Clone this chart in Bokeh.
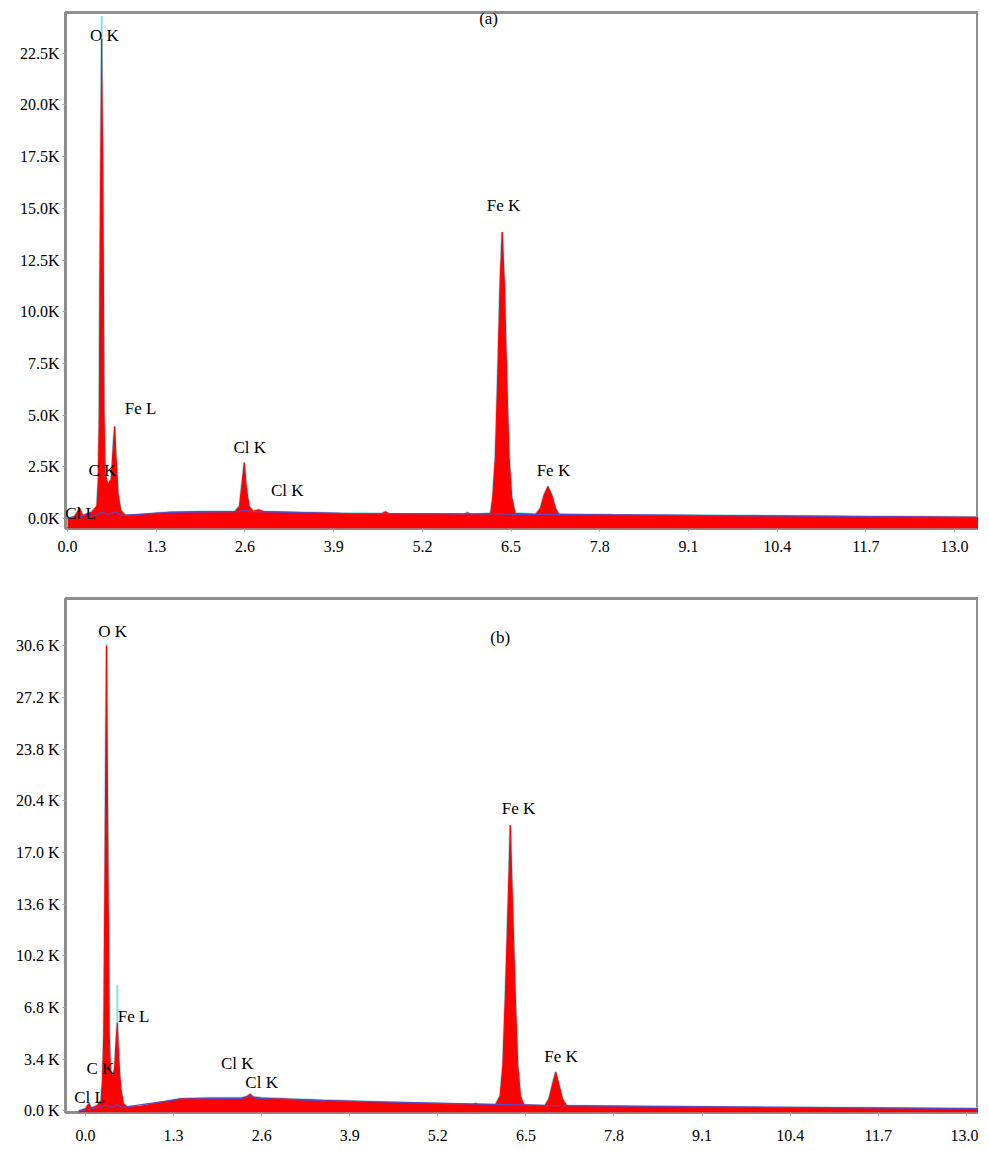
from bokeh.plotting import figure
from bokeh.layouts import column
from bokeh.models import FixedTicker, Range1d
from bokeh.core.properties import value
from bokeh.embed import file_html
from bokeh.resources import INLINE

# ---------------- data: panel (a) ----------------
a_energy = [0.00, 0.10, 0.18, 0.22, 0.35, 0.43, 0.45, 0.465, 0.475, 0.50, 0.525, 0.535,
            0.55, 0.59, 0.64, 0.67, 0.69, 0.71, 0.74, 0.78, 0.85, 1.00, 1.30, 1.50,
            2.00, 2.45, 2.52, 2.55, 2.59, 2.62, 2.66, 2.72, 2.80, 2.88, 3.90, 4.60,
            4.66, 4.72, 5.80, 5.86, 5.92, 6.20, 6.23, 6.27, 6.305, 6.34, 6.37, 6.40,
            6.435, 6.47, 6.51, 6.56, 6.86, 6.93, 6.98, 7.04, 7.10, 7.15, 7.20, 8.00,
            10.00, 13.35]
a_counts = [0, 100, 500, 150, 300, 600, 1800, 5000, 12000, 23200, 12000, 5000,
            2200, 1650, 1900, 3500, 4450, 3000, 1200, 400, 150, 150, 250, 300,
            330, 330, 600, 1500, 2700, 1500, 600, 350, 420, 330, 250, 230,
            320, 220, 180, 280, 180, 250, 1000, 3000, 7000, 11500, 13850, 11500,
            7000, 3000, 1000, 250, 200, 500, 1100, 1550, 1100, 500, 200, 170,
            130, 60]
a_bg_energy = [0.00, 0.20, 0.30, 0.40, 0.50, 0.60, 0.70, 0.80, 1.50, 2.50, 2.59, 2.70,
               4.00, 6.30, 6.50, 7.00, 13.35]
a_bg_counts = [0, 100, 200, 130, 300, 200, 320, 150, 300, 330, 390, 330,
               250, 220, 200, 200, 60]
a_spike_energy = [0.50]
a_spike_low = [23200]
a_spike_high = [24300]
a_label_text = ["O K", "(a)", "Fe K", "Fe L", "Cl K", "Cl K", "C K", "Cl L", "Fe K"]
a_label_energy = [0.54, 6.17, 6.39, 1.07, 2.67, 3.22, 0.51, 0.19, 7.12]
a_label_counts = [23350, 24170, 15130, 5310, 3430, 1350, 2320, 240, 2320]
a_y_ticks = [0, 2500, 5000, 7500, 10000, 12500, 15000, 17500, 20000, 22500]
a_y_labels = ["0.0K", "2.5K", "5.0K", "7.5K", "10.0K", "12.5K", "15.0K", "17.5K",
              "20.0K", "22.5K"]

# ---------------- data: panel (b) ----------------
b_energy = [-0.10, 0.00, 0.05, 0.09, 0.17, 0.23, 0.25, 0.27, 0.285, 0.31, 0.335, 0.35,
            0.37, 0.40, 0.43, 0.45, 0.47, 0.49, 0.52, 0.56, 0.62, 0.80, 1.10, 1.40,
            1.80, 2.30, 2.38, 2.43, 2.48, 2.60, 3.50, 4.50, 5.40, 5.72, 5.76, 5.80,
            6.05, 6.12, 6.16, 6.20, 6.24, 6.27, 6.30, 6.34, 6.38, 6.42, 6.47, 6.78,
            6.84, 6.89, 6.94, 6.99, 7.04, 7.10, 8.00, 10.00, 13.20]
b_counts = [0, 150, 500, 200, 350, 700, 2000, 5000, 14000, 30600, 14000, 5000,
            2600, 2300, 2800, 4500, 5800, 3500, 1500, 500, 250, 300, 550, 800,
            850, 850, 950, 1100, 920, 850, 700, 550, 450, 420, 500, 420,
            400, 1000, 3000, 8000, 14000, 18800, 14000, 8000, 3000, 1000, 400, 350,
            800, 1700, 2570, 1700, 800, 350, 300, 230, 150]
b_bg_energy = [-0.10, 0.05, 0.20, 0.30, 0.40, 0.47, 0.55, 0.65, 1.40, 2.30, 2.43, 2.55,
               3.50, 6.20, 6.40, 6.90, 13.20]
b_bg_counts = [0, 120, 250, 380, 230, 420, 220, 300, 780, 830, 950, 830,
               680, 420, 400, 350, 150]
b_spike_energy = [0.31, 0.47]
b_spike_low = [30000, 5800]
b_spike_high = [30760, 8300]
b_label_text = ["O K", "(b)", "Fe K", "Fe L", "C K", "Cl L", "Cl K", "Cl K", "Fe K"]
b_label_energy = [0.40, 6.12, 6.39, 0.71, 0.22, 0.06, 2.24, 2.60, 7.02]
b_label_counts = [31550, 31150, 19900, 6220, 2800, 890, 3130, 1880, 3590]
b_y_ticks = [0, 3400, 6800, 10200, 13600, 17000, 20400, 23800, 27200, 30600]
b_y_labels = ["0.0 K", "3.4 K", "6.8 K", "10.2 K", "13.6 K", "17.0 K", "20.4 K",
              "23.8 K", "27.2 K", "30.6 K"]

x_ticks = [0.0, 1.3, 2.6, 3.9, 5.2, 6.5, 7.8, 9.1, 10.4, 11.7, 13.0]
x_labels = ["0.0", "1.3", "2.6", "3.9", "5.2", "6.5", "7.8", "9.1", "10.4", "11.7", "13.0"]

FONT = "Liberation Serif"
RED = "#ff0000"
CYAN = "#84e4ee"
PURPLE = "#5b47c8"


def make_panel(energy, counts, bg_e, bg_c, sp_e, sp_lo, sp_hi, lab_t, lab_e, lab_c,
               y_ticks, y_labels, xr, yr, height, borders, x_standoff):
    left, right, top, bottom = borders
    p = figure(width=978, height=height, output_backend="svg", toolbar_location=None,
               x_range=Range1d(*xr), y_range=Range1d(*yr),
               min_border_left=left, min_border_right=right,
               min_border_top=top, min_border_bottom=bottom)
    p.background_fill_color = "white"
    p.border_fill_color = "white"
    p.outline_line_color = "#8e8e8e"
    p.outline_line_width = 3
    p.grid.visible = False

    # spectrum: cyan halo, red fill, fitted background
    p.line(energy, counts, line_color=CYAN, line_width=2.5)
    p.segment(x0=sp_e, y0=sp_lo, x1=sp_e, y1=sp_hi, line_color=CYAN, line_width=2)
    p.varea(x=energy, y1=yr[0], y2=counts, fill_color=RED)
    p.line(energy, counts, line_color=RED, line_width=1)
    p.line(bg_e, bg_c, line_color=PURPLE, line_width=1.2)

    p.text(x=lab_e, y=lab_c, text=lab_t, text_font=value(FONT),
           text_font_size="17px", text_align="center", text_baseline="middle",
           text_color="black")

    # axes
    p.xaxis.ticker = FixedTicker(ticks=x_ticks)
    p.xaxis.major_label_overrides = {t: l for t, l in zip(x_ticks, x_labels)}
    p.yaxis.ticker = FixedTicker(ticks=y_ticks)
    p.yaxis.major_label_overrides = {t: l for t, l in zip(y_ticks, y_labels)}
    for ax in (p.xaxis[0], p.yaxis[0]):
        ax.axis_line_color = None
        ax.major_tick_line_color = "#a0a0a0"
        ax.major_tick_in = 0
        ax.major_tick_out = 3
        ax.minor_tick_line_color = None
        ax.major_label_text_font = FONT
        ax.major_label_text_font_size = "16px"
        ax.major_label_text_color = "black"
    p.xaxis.major_label_standoff = x_standoff
    p.yaxis.major_label_standoff = 3
    return p


pa = make_panel(a_energy, a_counts, a_bg_energy, a_bg_counts,
                a_spike_energy, a_spike_low, a_spike_high,
                a_label_text, a_label_energy, a_label_counts,
                a_y_ticks, a_y_labels, (-0.03, 13.35), (-484, 24470),
                558, (65, 0, 12, 30), 9)
pb = make_panel(b_energy, b_counts, b_bg_energy, b_bg_counts,
                b_spike_energy, b_spike_low, b_spike_high,
                b_label_text, b_label_energy, b_label_counts,
                b_y_ticks, b_y_labels, (-0.295, 13.18), (-100, 33720),
                590, (65, 0, 40, 36), 14)

layout = column(pa, pb, spacing=0)
open("out.html", "w").write(file_html(layout, INLINE))
